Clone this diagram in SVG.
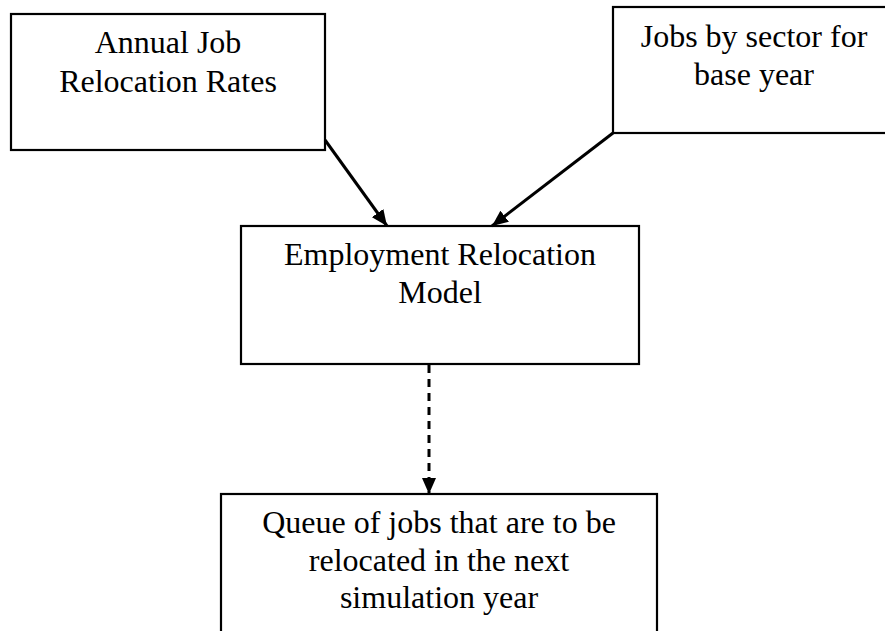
<svg xmlns="http://www.w3.org/2000/svg" width="885" height="631" viewBox="0 0 885 631">
<defs>
<marker id="ah" markerUnits="userSpaceOnUse" markerWidth="16" markerHeight="14" viewBox="0 0 16 14" refX="16" refY="7" orient="auto">
<path d="M0,0 L16,7 L0,14 z" fill="#000"/>
</marker>
<style>
.box{fill:#fff;stroke:#000;stroke-width:2.2}
.c{stroke:#000;stroke-width:3;fill:none}
</style>
</defs>
<rect width="885" height="631" fill="#fff"/>
<g font-family="Liberation Serif, Tinos, 'Times New Roman', serif" font-size="32" fill="#000" text-anchor="middle">
<g id="node-annual">
<rect class="box" x="11" y="14" width="314" height="136"/>
<text x="168" y="53">Annual Job</text>
<text x="168" y="92">Relocation Rates</text>
</g>
<g id="node-jobs">
<rect class="box" x="613" y="7" width="290" height="126"/>
<text x="754" y="47">Jobs by sector for</text>
<text x="754" y="85">base year</text>
</g>
<g id="node-model">
<rect class="box" x="241" y="226" width="398" height="138"/>
<text x="440" y="265">Employment Relocation</text>
<text x="440" y="303">Model</text>
</g>
<g id="node-queue">
<rect class="box" x="221" y="494" width="436" height="160"/>
<text x="439" y="533">Queue of jobs that are to be</text>
<text x="439" y="571">relocated in the next</text>
<text x="439" y="608">simulation year</text>
</g>
</g>
<g id="connectors">
<line class="c" x1="325" y1="140" x2="387" y2="226" marker-end="url(#ah)"/>
<line class="c" x1="613" y1="133" x2="492" y2="226" marker-end="url(#ah)"/>
<line class="c" x1="429" y1="365" x2="429" y2="494" stroke-dasharray="8,6" marker-end="url(#ah)"/>
</g>
</svg>
